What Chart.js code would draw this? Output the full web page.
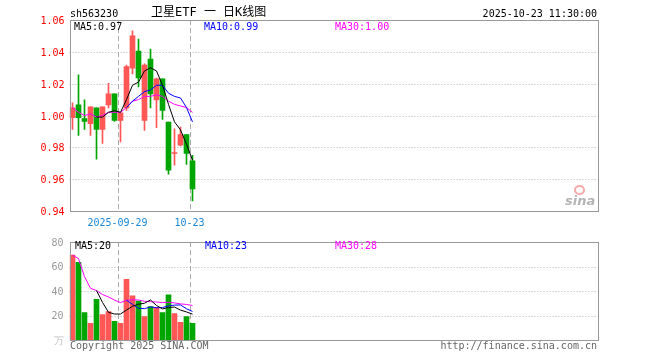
<!DOCTYPE html>
<html>
<head>
<meta charset="utf-8">
<script src="https://cdn.jsdelivr.net/npm/chart.js@4.4.0/dist/chart.umd.min.js"></script>
<style>
body { margin: 0; background: #fff; }
#wrap { position: relative; width: 660px; height: 360px; overflow: hidden;
        font-family: 'DejaVu Sans Mono', monospace; font-size: 10px; line-height: 10px; }
#wrap canvas { position: absolute; left: 0; }
.t { position: absolute; white-space: pre; }
</style>
</head>
<body>
<div id="wrap">
  <canvas id="kline" width="660" height="232" style="top:0"></canvas>
  <canvas id="vol" width="660" height="130" style="top:230px"></canvas>

  <div class="t" style="left:70px;top:9px">sh563230</div>
  <div class="t" style="left:151px;top:6px;font-size:12px;line-height:12px;font-family:'DejaVu Sans Mono','Noto Sans CJK SC',monospace">卫星ETF 一 日K线图</div>
  <div class="t" style="right:63px;top:9px">2025-10-23 11:30:00</div>

  <div class="t" style="left:74px;top:22px;color:#000">MA5:0.97</div>
  <div class="t" style="left:204px;top:22px;color:#0000ff">MA10:0.99</div>
  <div class="t" style="left:335px;top:22px;color:#ff00ff">MA30:1.00</div>

  <div class="t" style="left:75px;top:241px;color:#000">MA5:20</div>
  <div class="t" style="left:205px;top:241px;color:#0000ff">MA10:23</div>
  <div class="t" style="left:335px;top:241px;color:#ff00ff">MA30:28</div>

  <div class="t" style="left:70px;top:341px;color:#666">Copyright 2025 SINA.COM</div>
  <div class="t" style="right:63px;top:341px;color:#666">http://finance.sina.com.cn</div>

  <div style="position:absolute;left:574px;top:185px;width:7px;height:6px;border:2px solid #f4a8a8;border-radius:50%"></div>
  <div class="t" style="left:565px;top:194px;font:italic bold 13px 'DejaVu Sans',sans-serif;line-height:13px;color:#b4b4b4">sina</div>
</div>

<script>
// 日期（21 个交易日）
const days = ['2025-09-17','2025-09-18','2025-09-19','2025-09-22','2025-09-23','2025-09-24','2025-09-25',
              '2025-09-26','2025-09-29','2025-09-30','2025-10-09','2025-10-10','2025-10-13','2025-10-14',
              '2025-10-15','2025-10-16','2025-10-17','2025-10-20','2025-10-21','2025-10-22','2025-10-23'];

const opens  = [0.9986, 1.0067, 0.9980, 0.9948, 1.0048, 0.9913, 1.0067, 1.0136, 0.9969, 1.0048, 1.0298,
                1.0405, 0.9969, 1.0355, 1.0098, 1.0230, 0.9959, 0.9761, 0.9813, 0.9880, 0.9715];
const closes = [1.0048, 0.9986, 0.9963, 1.0055, 0.9913, 1.0055, 1.0136, 0.9969, 1.0017, 1.0307, 1.0500,
                1.0236, 1.0317, 1.0136, 1.0230, 1.0032, 0.9657, 0.9767, 0.9880, 0.9761, 0.9538];
const highs  = [1.0080, 1.0255, 1.0098, 1.0055, 1.0048, 1.0055, 1.0202, 1.0136, 1.0017, 1.0317, 1.0532,
                1.0480, 1.0325, 1.0417, 1.0235, 1.0230, 0.9959, 0.9917, 0.9927, 0.9880, 0.9750];
const lows   = [0.9913, 0.9875, 0.9913, 0.9875, 0.9725, 0.9825, 1.0048, 0.9963, 0.9834, 1.0032, 1.0261,
                1.0180, 0.9907, 1.0048, 0.9923, 0.9975, 0.9632, 0.9688, 0.9809, 0.9692, 0.9463];

const ma5  = [null, null, null, null, 0.999, 0.999, 1.002, 1.003, 1.002, 1.010, 1.019,
              1.021, 1.028, 1.030, 1.028, 1.019, 1.007, 0.996, 0.991, 0.982, 0.972];
const ma10 = [null, null, null, null, null, null, null, null, null, 1.005, 1.009,
              1.012, 1.015, 1.016, 1.019, 1.019, 1.014, 1.012, 1.011, 1.005, 0.996];
const ma30 = [1.005, 1.002, 1.000, 1.001, 0.999, 1.000, 1.002, 1.002, 1.002, 1.005, 1.009,
              1.010, 1.012, 1.012, 1.013, 1.012, 1.009, 1.007, 1.006, 1.005, 1.002];

// 成交量（万）
const vols  = [69.3, 63.5, 22.4, 13.6, 33.1, 20.8, 23.2, 15.2, 13.6, 49.6, 36.0,
               31.7, 19.2, 27.2, 26.7, 22.4, 36.8, 21.6, 14.4, 19.2, 13.6];
const vma5  = [null, null, null, null, 40.4, 30.7, 22.6, 21.2, 21.2, 24.5, 27.5,
               29.2, 30.0, 32.7, 28.2, 25.4, 26.5, 26.9, 24.4, 22.9, 21.1];
const vma10 = [null, null, null, null, null, null, null, null, null, 32.4, 29.1,
               25.9, 25.6, 27.0, 26.3, 26.5, 27.8, 28.5, 28.6, 25.5, 23.3];
const vma30 = [69.3, 66.4, 51.7, 42.2, 40.4, 37.1, 35.1, 32.6, 30.5, 32.4, 32.8,
               32.7, 31.6, 31.3, 31.0, 30.5, 30.8, 30.3, 29.5, 29.0, 28.2];

// 刻度
const priceTicks = [0.94, 0.96, 0.98, 1.00, 1.02, 1.04, 1.06];
const volTicks   = [0, 20, 40, 60, 80];
const xTickIdx   = [8, 20];
const xTickText  = ['2025-09-29', '10-23'];

const SLOTS = 88;   // 横轴总格数（图只占左边一段）
const labels = days.concat(Array(SLOTS - days.length).fill(''));

const RED = '#ff5656', GREEN = '#00a600';
const candleColors = closes.map((c, i) => c >= opens[i] ? RED : GREEN);
const FONT = { family: 'DejaVu Sans Mono', size: 10 };

// 网格 + 虚线 + 边框
const framePlugin = {
    id: 'frame',
    beforeDatasetsDraw(chart) {
        const { ctx, chartArea: a, scales: { x, y } } = chart;
        ctx.save();
        ctx.lineWidth = 1;
        ctx.strokeStyle = '#b0b0b0';
        ctx.setLineDash([1, 2]);
        y.ticks.forEach(t => {
            if (t.value <= y.min || t.value >= y.max) return;
            const py = Math.round(y.getPixelForValue(t.value)) + 0.5;
            ctx.beginPath(); ctx.moveTo(a.left, py); ctx.lineTo(a.right, py); ctx.stroke();
        });
        const cw = (x.right - x.left) / SLOTS;
        ctx.strokeStyle = '#aaaaaa';
        ctx.setLineDash([5, 3]);
        xTickIdx.forEach(i => {
            const px = Math.round(x.getPixelForValue(i) - cw / 2) + 0.5;
            ctx.beginPath(); ctx.moveTo(px, a.top); ctx.lineTo(px, a.bottom); ctx.stroke();
        });
        ctx.restore();
    },
    afterDraw(chart) {
        const { ctx, chartArea: a } = chart;
        ctx.save();
        ctx.strokeStyle = '#999';
        ctx.lineWidth = 1;
        ctx.strokeRect(Math.round(a.left) + 0.5, Math.round(a.top) + 0.5,
                       Math.round(a.right - a.left), Math.round(a.bottom - a.top));
        ctx.restore();
    }
};

function lineDs(data, color) {
    return { type: 'line', data, borderColor: color, borderWidth: 1, pointRadius: 0,
             tension: 0, fill: false, order: 0 };
}

function xScale(show) {
    return {
        type: 'category', offset: true, display: show,
        grid: { display: false, drawTicks: false }, border: { display: false },
        ticks: {
            autoSkip: false, maxRotation: 0, minRotation: 0, padding: 6, labelOffset: -3,
            color: '#1b87d6', font: FONT,
            callback: (v, i) => { const k = xTickIdx.indexOf(i); return k >= 0 ? xTickText[k] : ''; }
        },
        afterFit: s => { s.height = show ? 21 : 0; }
    };
}

new Chart(document.getElementById('kline'), {
    type: 'bar',
    data: {
        labels,
        datasets: [
            lineDs(ma5, '#000000'),
            lineDs(ma10, '#0000ff'),
            lineDs(ma30, '#ff00ff'),
            { data: opens.map((o, i) => [o, closes[i]]), backgroundColor: candleColors,
              barThickness: 5, grouped: false, order: 1 },
            { data: lows.map((l, i) => [l, highs[i]]), backgroundColor: candleColors,
              barThickness: 1, grouped: false, order: 2 }
        ]
    },
    options: {
        responsive: false, animation: false, devicePixelRatio: 1,
        layout: { padding: { top: 20, right: 62.5, bottom: 0, left: 0 } },
        plugins: { legend: { display: false }, tooltip: { enabled: false } },
        scales: {
            x: xScale(true),
            y: {
                min: priceTicks[0], max: priceTicks[priceTicks.length - 1],
                afterBuildTicks: s => { s.ticks = priceTicks.map(v => ({ value: v })); },
                grid: { display: false, drawTicks: false }, border: { display: false },
                ticks: { color: '#ff0000', font: FONT, padding: 5, labelOffset: 1.5,
                         callback: v => v.toFixed(2) },
                afterFit: s => { s.width = 69.5; }
            }
        }
    },
    plugins: [framePlugin]
});

new Chart(document.getElementById('vol'), {
    type: 'bar',
    data: {
        labels,
        datasets: [
            lineDs(vma5, '#000000'),
            lineDs(vma10, '#0000ff'),
            lineDs(vma30, '#ff00ff'),
            { data: vols, backgroundColor: candleColors, barThickness: 5, grouped: false, order: 1 }
        ]
    },
    options: {
        responsive: false, animation: false, devicePixelRatio: 1,
        layout: { padding: { top: 10, right: 62.5, bottom: 20, left: 0 } },
        plugins: { legend: { display: false }, tooltip: { enabled: false } },
        scales: {
            x: xScale(false),
            y: {
                min: volTicks[0], max: volTicks[volTicks.length - 1],
                afterBuildTicks: s => { s.ticks = volTicks.map(v => ({ value: v })); },
                grid: { display: false, drawTicks: false }, border: { display: false },
                ticks: { color: c => c.tick.value === 0 ? '#c0c0c0' : '#999', font: FONT, padding: 6,
                         labelOffset: 1, callback: v => v === 0 ? '万' : v },
                afterFit: s => { s.width = 69.5; }
            }
        }
    },
    plugins: [framePlugin]
});
</script>
</body>
</html>
